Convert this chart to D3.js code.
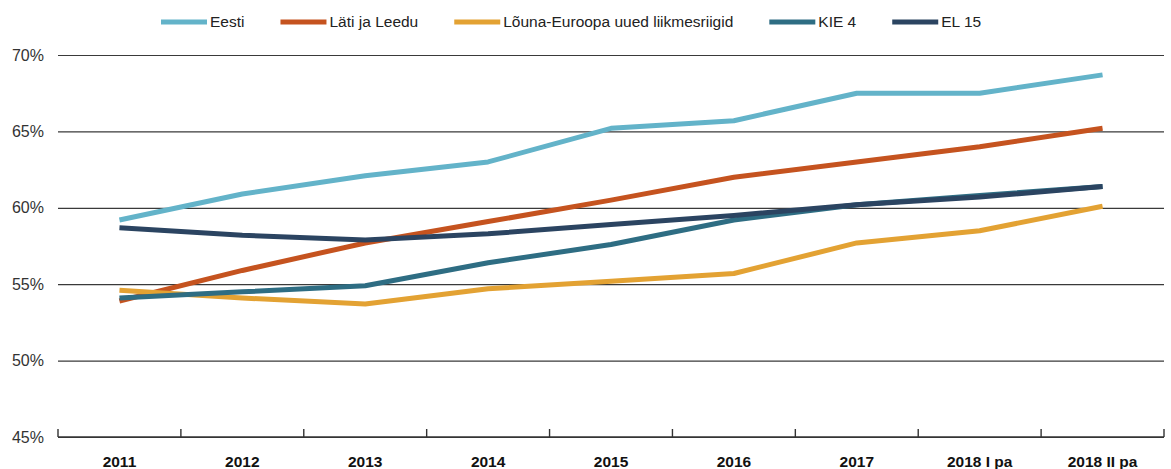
<!DOCTYPE html>
<html>
<head>
<meta charset="utf-8">
<script src="https://cdn.jsdelivr.net/npm/d3@7"></script>
<style>
    body { margin: 0; background: #fff; }
    svg { font-family: "Liberation Sans", Arial, sans-serif; }
    .grid line { stroke: #3a3a3a; stroke-width: 1.2; }
    .grid text { fill: #333; font-size: 16px; }
    .xaxis text { fill: #111; font-size: 15.5px; font-weight: bold; }
    .legend text { fill: #222; font-size: 15.5px; }
</style>
</head>
<body>
<div id="container"></div>
<script>
const categories = ['2011', '2012', '2013', '2014', '2015', '2016', '2017', '2018 I pa', '2018 II pa'];
const seriesNames = ['Eesti', 'Läti ja Leedu', 'Lõuna-Euroopa uued liikmesriigid', 'KIE 4', 'EL 15'];
const eesti = [59.2, 60.9, 62.1, 63.0, 65.2, 65.7, 67.5, 67.5, 68.7];
const latiLeedu = [53.9, 55.9, 57.7, 59.1, 60.5, 62.0, 63.0, 64.0, 65.2];
const lounaEuroopa = [54.6, 54.1, 53.7, 54.7, 55.2, 55.7, 57.7, 58.5, 60.1];
const kie4 = [54.1, 54.5, 54.9, 56.4, 57.6, 59.2, 60.2, 60.8, 61.4];
const el15 = [58.7, 58.2, 57.9, 58.3, 58.9, 59.5, 60.2, 60.7, 61.4];
const yTicks = [45, 50, 55, 60, 65, 70];
const colors = ['#63b3c9', '#c5531f', '#e3a233', '#2e6d83', '#2b4461'];

const allSeries = [eesti, latiLeedu, lounaEuroopa, kie4, el15];

const W = 1171, H = 469;
const plotLeft = 58, plotRight = 1164, plotTop = 55, plotBottom = 437;

const svg = d3.select('#container').append('svg')
    .attr('width', W)
    .attr('height', H);

const xScale = d3.scaleBand()
    .domain(categories)
    .range([plotLeft, plotRight])
    .padding(0);

const yScale = d3.scaleLinear()
    .domain([45, 70])
    .range([plotBottom, plotTop]);

// horizontal grid + y labels
const grid = svg.append('g')
    .attr('class', 'grid')
    .attr('transform', `translate(${plotLeft}, 0)`)
    .call(d3.axisLeft(yScale)
        .tickValues(yTicks)
        .tickSize(-(plotRight - plotLeft))
        .tickPadding(14)
        .tickFormat(d => d + '%'));
grid.select('.domain').remove();

// x axis with labels centered in bands
const xAxis = svg.append('g')
    .attr('class', 'xaxis')
    .attr('transform', `translate(0, ${plotBottom})`)
    .call(d3.axisBottom(xScale).tickSize(0).tickPadding(19));
xAxis.select('.domain').remove();

svg.append('line')
    .attr('x1', plotLeft)
    .attr('x2', plotRight)
    .attr('y1', plotBottom)
    .attr('y2', plotBottom)
    .attr('stroke', '#333')
    .attr('stroke-width', 1.6);

// tick marks at band edges, pointing up
const edges = categories.map(c => xScale(c)).concat([plotRight]);
svg.selectAll('.edge')
    .data(edges)
    .enter()
    .append('line')
    .attr('class', 'edge')
    .attr('x1', d => d)
    .attr('x2', d => d)
    .attr('y1', plotBottom)
    .attr('y2', plotBottom - 8)
    .attr('stroke', '#333')
    .attr('stroke-width', 1.4);

const line = d3.line()
    .x((d, i) => xScale(categories[i]) + xScale.bandwidth() / 2)
    .y(d => yScale(d));

svg.selectAll('.series')
    .data(allSeries)
    .enter()
    .append('path')
    .attr('class', 'series')
    .attr('d', d => line(d))
    .attr('fill', 'none')
    .attr('stroke', (d, i) => colors[i])
    .attr('stroke-width', 5)
    .attr('stroke-linejoin', 'round');

// legend
const legend = svg.append('g').attr('class', 'legend');
let lx = 161;
seriesNames.forEach((name, i) => {
    legend.append('line')
        .attr('x1', lx)
        .attr('x2', lx + 46)
        .attr('y1', 22)
        .attr('y2', 22)
        .attr('stroke', colors[i])
        .attr('stroke-width', 5);
    const t = legend.append('text')
        .attr('x', lx + 49)
        .attr('y', 22)
        .attr('dy', '0.35em')
        .text(name);
    lx += 49 + t.node().getComputedTextLength() + 36;
});
</script>
</body>
</html>
